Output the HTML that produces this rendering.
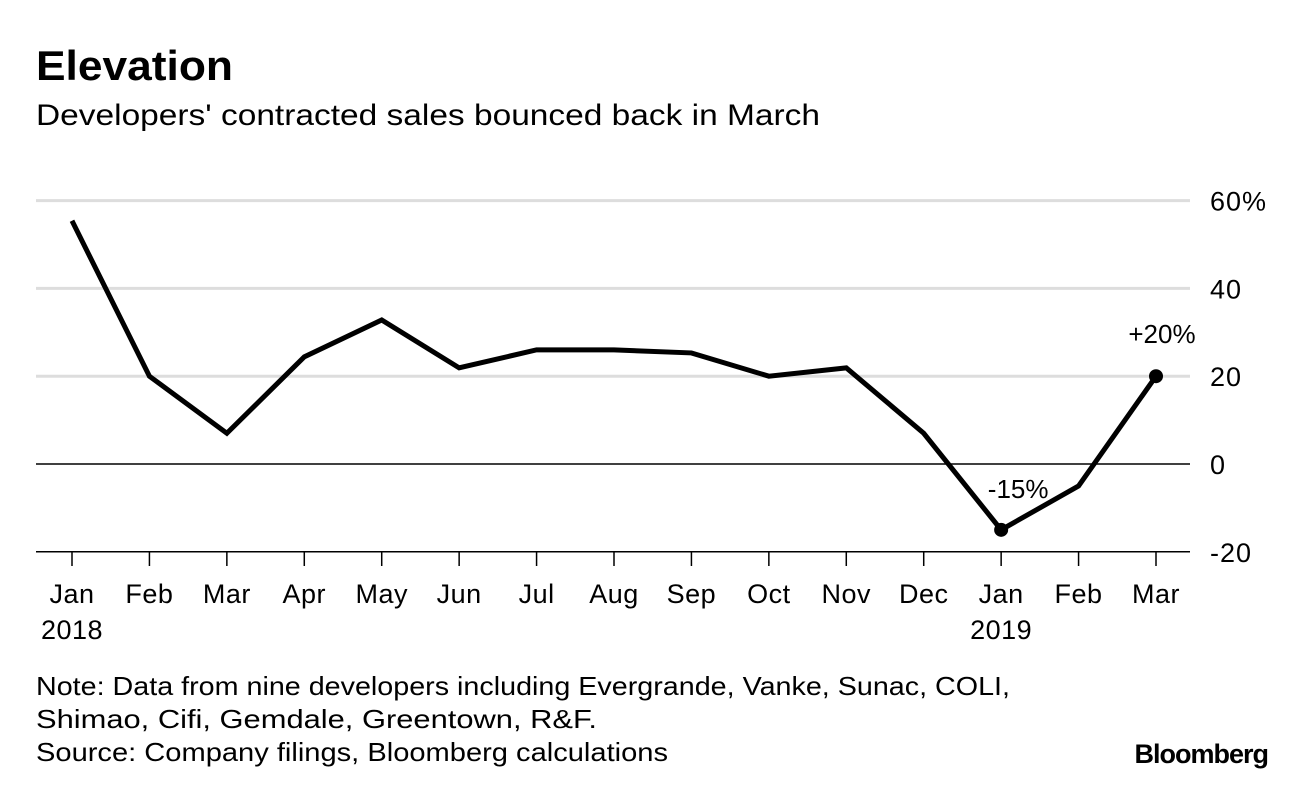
<!DOCTYPE html>
<html><head><meta charset="utf-8"><style>
body{margin:0;background:#fff;width:1296px;height:784px;overflow:hidden;font-family:"Liberation Sans",Arial,sans-serif;color:#000}
svg text{font-family:"Liberation Sans",Arial,sans-serif}
</style></head><body>
<svg width="1296" height="784">
<text x="36" y="80" font-size="42" font-weight="bold" textLength="197" lengthAdjust="spacingAndGlyphs">Elevation</text>
<text x="36" y="125" font-size="30" textLength="784" lengthAdjust="spacingAndGlyphs">Developers' contracted sales bounced back in March</text>
<g id="grid"></g><g id="xax"></g><g id="series"></g>
<text x="36" y="695" font-size="26" textLength="974" lengthAdjust="spacingAndGlyphs">Note: Data from nine developers including Evergrande, Vanke, Sunac, COLI,</text>
<text x="36" y="728" font-size="26" textLength="561" lengthAdjust="spacingAndGlyphs">Shimao, Cifi, Gemdale, Greentown, R&amp;F.</text>
<text x="36" y="761" font-size="26" textLength="632" lengthAdjust="spacingAndGlyphs">Source: Company filings, Bloomberg calculations</text>
<text x="1268" y="763" font-size="27" font-weight="bold" text-anchor="end" letter-spacing="-1">Bloomberg</text>
</svg>
<script>
const months=["Jan","Feb","Mar","Apr","May","Jun","Jul","Aug","Sep","Oct","Nov","Dec","Jan","Feb","Mar"];
const years=["2018","","","","","","","","","","","","2019","",""];
const values=[55.4,20,7,24.4,32.8,21.9,26,26,25.3,20,21.9,7,-15,-5,20];
const yTicks=[60,40,20,0,-20];
const yTickLabels=["60%","40","20","0","-20"];
const NS="http://www.w3.org/2000/svg";
const x=i=>72+i*(1156-72)/(months.length-1);
const y=v=>464-v*4.39;
function mk(t,a,p){const e=document.createElementNS(NS,t);for(const k in a)e.setAttribute(k,a[k]);p.appendChild(e);return e;}
const grid=document.getElementById('grid'),xax=document.getElementById('xax'),ser=document.getElementById('series');
yTicks.forEach((v,i)=>{
 const l=mk('line',{x1:36,x2:1190,y1:y(v),y2:y(v),stroke:(v===0||v===-20)?'#000':'#ddd','stroke-width':(v===0||v===-20)?1.5:3},grid);
 
 
 const t=mk('text',{x:1210,y:y(v)+10,'font-size':27,'letter-spacing':1},grid);t.textContent=yTickLabels[i];
 
 
});
months.forEach((m,i)=>{
 const tk=mk('line',{x1:x(i),x2:x(i),y1:552,y2:566,stroke:'#000','stroke-width':1.5},xax);
 
 
 const t=mk('text',{x:x(i),y:603,'font-size':27,'text-anchor':'middle','letter-spacing':0.5},xax);t.textContent=m;
 
 
 if(years[i]){const t2=mk('text',{x:x(i),y:639,'font-size':27,'text-anchor':'middle','letter-spacing':0.5},xax);t2.textContent=years[i];
 
 }
});
const p=mk('polyline',{points:values.map((v,i)=>x(i)+','+y(v)).join(' '),fill:'none',stroke:'#000','stroke-width':5,'stroke-linejoin':'miter'},ser);


[[12,'-15%',17,-32],[14,'+20%',6,-33]].forEach(([i,lab,dx,dy])=>{
 const c=mk('circle',{cx:x(i),cy:y(values[i]),r:7,fill:'#000'},ser);
 
 
 const t=mk('text',{x:x(i)+dx,y:y(values[i])+dy,'font-size':26,'text-anchor':'middle'},ser);t.textContent=lab;
 
 
});
</script>
</body></html>
